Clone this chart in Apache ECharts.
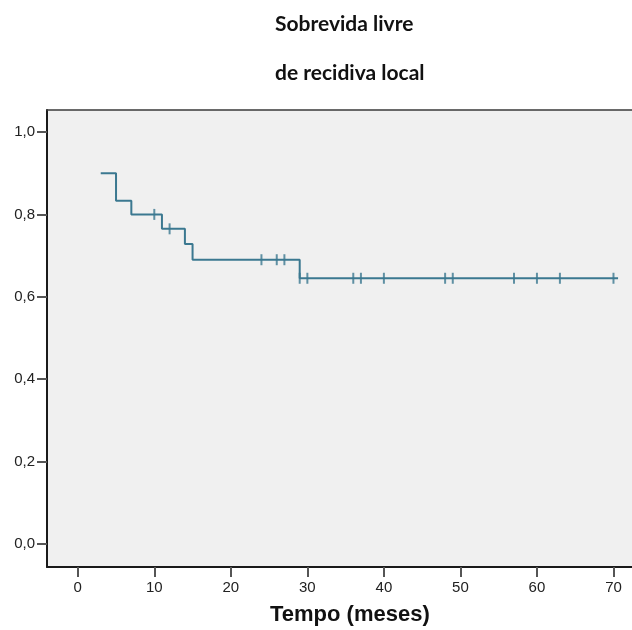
<!DOCTYPE html>
<html>
<head>
<meta charset="utf-8">
<script src="https://cdn.jsdelivr.net/npm/echarts@6/dist/echarts.min.js"></script>
<style>
html,body{margin:0;padding:0;background:#fff;}
#c{width:632px;height:630px;}
</style>
</head>
<body>
<div id="c"></div>
<script>
// Kaplan-Meier step curve (time in months, cumulative survival)
const stepTimes = [3, 5, 7, 11, 14, 15, 29, 70.6];
const stepSurv  = [0.9, 0.833, 0.8, 0.765, 0.728, 0.69, 0.645, 0.645];
// censored observations
const censorTimes = [10, 12, 24, 26, 27, 29, 30, 36, 37, 40, 48, 49, 57, 60, 63, 70];
const censorSurv  = [0.8, 0.765, 0.69, 0.69, 0.69, 0.645, 0.645, 0.645, 0.645, 0.645, 0.645, 0.645, 0.645, 0.645, 0.645, 0.645];
// tick labels
const xTicks = [0, 10, 20, 30, 40, 50, 60, 70];
const yTicks = [0, 0.2, 0.4, 0.6, 0.8, 1.0];
const titleLines = ['Sobrevida livre', 'de recidiva local'];
const xTitle = 'Tempo (meses)';

const lineColor = '#3b7890';
const xMin = -4.02, xMax = 72.42;
const chart = echarts.init(document.getElementById('c'), null, {renderer: 'canvas'});
chart.setOption({
  animation: false,
  backgroundColor: '#ffffff',
  grid: {
    left: 47, top: 110, right: 0, bottom: 63,
    show: true, backgroundColor: '#f0f0f0', borderWidth: 0
  },
  xAxis: [{
    type: 'value', min: xMin, max: xMax,
    splitLine: {show: false},
    axisLine: {show: true, onZero: false, lineStyle: {color: '#1a1a1a', width: 2}},
    axisTick: {show: true, length: 10, customValues: xTicks, lineStyle: {color: '#555', width: 2}},
    axisLabel: {customValues: xTicks, margin: 13, fontFamily: 'Liberation Sans', fontSize: 15, color: '#222'}
  }, {
    type: 'value', position: 'top', min: xMin, max: xMax,
    splitLine: {show: false}, axisTick: {show: false}, axisLabel: {show: false},
    axisLine: {show: true, onZero: false, lineStyle: {color: '#3a3a3a', width: 1.5}}
  }],
  yAxis: {
    type: 'value', min: -0.0558, max: 1.0534,
    splitLine: {show: false},
    axisLine: {show: true, onZero: false, lineStyle: {color: '#1a1a1a', width: 2}},
    axisTick: {show: true, length: 10, customValues: yTicks, lineStyle: {color: '#555', width: 2}},
    axisLabel: {customValues: yTicks, margin: 12, fontFamily: 'Liberation Sans', fontSize: 15, color: '#222',
      formatter: v => v.toFixed(1).replace('.', ',')}
  },
  graphic: [
    {type: 'text', left: 275, top: 14, style: {text: titleLines[0], font: 'bold 21px Lato', fill: '#111'}},
    {type: 'text', left: 275, top: 63, style: {text: titleLines[1], font: 'bold 21px Lato', fill: '#111'}},
    {type: 'text', left: 270, top: 604, style: {text: xTitle, font: 'bold 22px "Liberation Sans"', fill: '#111'}}
  ],
  series: [
    {
      type: 'line', step: 'end', showSymbol: false,
      data: stepTimes.map((t, i) => [t, stepSurv[i]]),
      lineStyle: {color: lineColor, width: 2}
    },
    {
      type: 'scatter', symbol: 'rect', symbolSize: [2, 11],
      data: censorTimes.map((t, i) => [t, censorSurv[i]]),
      itemStyle: {color: lineColor}
    }
  ]
});
</script>
</body>
</html>
